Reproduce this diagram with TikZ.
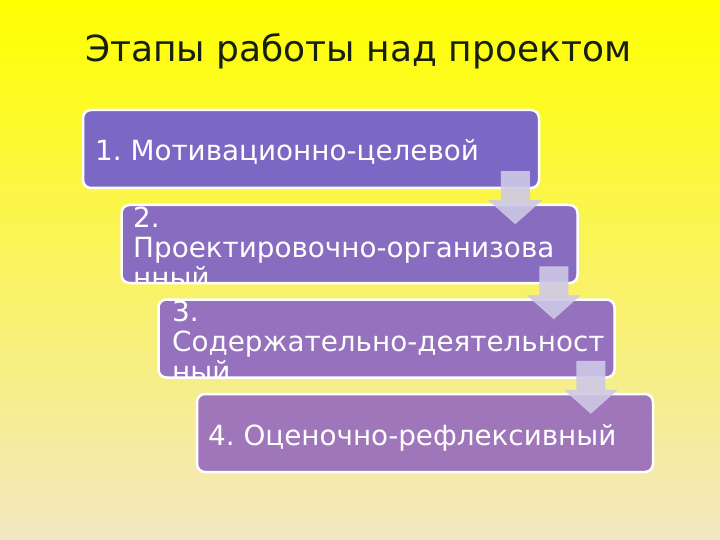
\documentclass[tikz,border=0pt]{standalone}
\usepackage{fontspec}
\setmainfont{DejaVu Sans}
\definecolor{bgtop}{RGB}{255,255,0}
\definecolor{bgbot}{RGB}{243,231,194}
\definecolor{titlecol}{RGB}{22,32,12}
\definecolor{boxa}{RGB}{122,104,196}
\definecolor{boxb}{RGB}{136,108,192}
\definecolor{boxc}{RGB}{149,113,190}
\definecolor{boxd}{RGB}{160,118,186}
\definecolor{arrowcol}{RGB}{206,201,230}
\begin{document}
\frenchspacing
\begin{tikzpicture}[x=1pt,y=-1pt,
  stagebox/.style={draw=white, line width=2.5pt, rounded corners=8pt,
    minimum width=456pt, minimum height=78pt, inner sep=0pt},
  stagetext/.style={text=white, font=\fontsize{27.8}{30}\selectfont,
    anchor=base west, inner sep=0pt, align=left},
  blockarrow/.style={fill=arrowcol, fill opacity=0.9, draw=none}]
\useasboundingbox (0,0) rectangle (720,540);
\shade[top color=bgtop, bottom color=bgbot] (0,0) rectangle (720,540);

\node[anchor=base west, inner sep=0pt, text=titlecol,
  font=\fontsize{36}{42}\selectfont] (title) at (85,62) {Этапы работы над проектом};

\node[stagebox, fill=boxa] (b1) at (311,149) {};
\node[stagebox, fill=boxb] (b2) at (349.5,244) {};
\node[stagebox, fill=boxc] (b3) at (386.5,338.5) {};
\node[stagebox, fill=boxd] (b4) at (425,433) {};

\node[stagetext] (t1) at (95,161) {1. Мотивационно-целевой};
\begin{scope}
  \clip[rounded corners=7pt] ([shift={(1.3,-1.3)}]b2.south west) rectangle ([shift={(-1.3,1.3)}]b2.north east);
  \node[stagetext] (t2a) at (133,227) {2.};
  \node[stagetext] (t2b) at (133,257) {Проектировочно-организова};
  \node[stagetext] (t2c) at (133,287) {нный};
\end{scope}
\begin{scope}
  \clip[rounded corners=7pt] ([shift={(1.3,-1.3)}]b3.south west) rectangle ([shift={(-1.3,1.3)}]b3.north east);
  \node[stagetext] (t3a) at (172,321) {3.};
  \node[stagetext] (t3b) at (172,351) {Содержательно-деятельност};
  \node[stagetext] (t3c) at (172,381) {ный};
\end{scope}
\node[stagetext] (t4) at (208,445) {4. Оценочно-рефлексивный};

\foreach \b/\a in {b1/a1, b2/a2, b3/a3}{
  \path (\b.south east) ++(-25,-18) coordinate (\a);
  \fill[blockarrow] (\a) ++(-14.5,0) -- ++(29,0) -- ++(0,29) -- ++(12.5,0)
    -- ++(-27,24) -- ++(-27,-24) -- ++(12.5,0) -- cycle;
}
\end{tikzpicture}
\end{document}
